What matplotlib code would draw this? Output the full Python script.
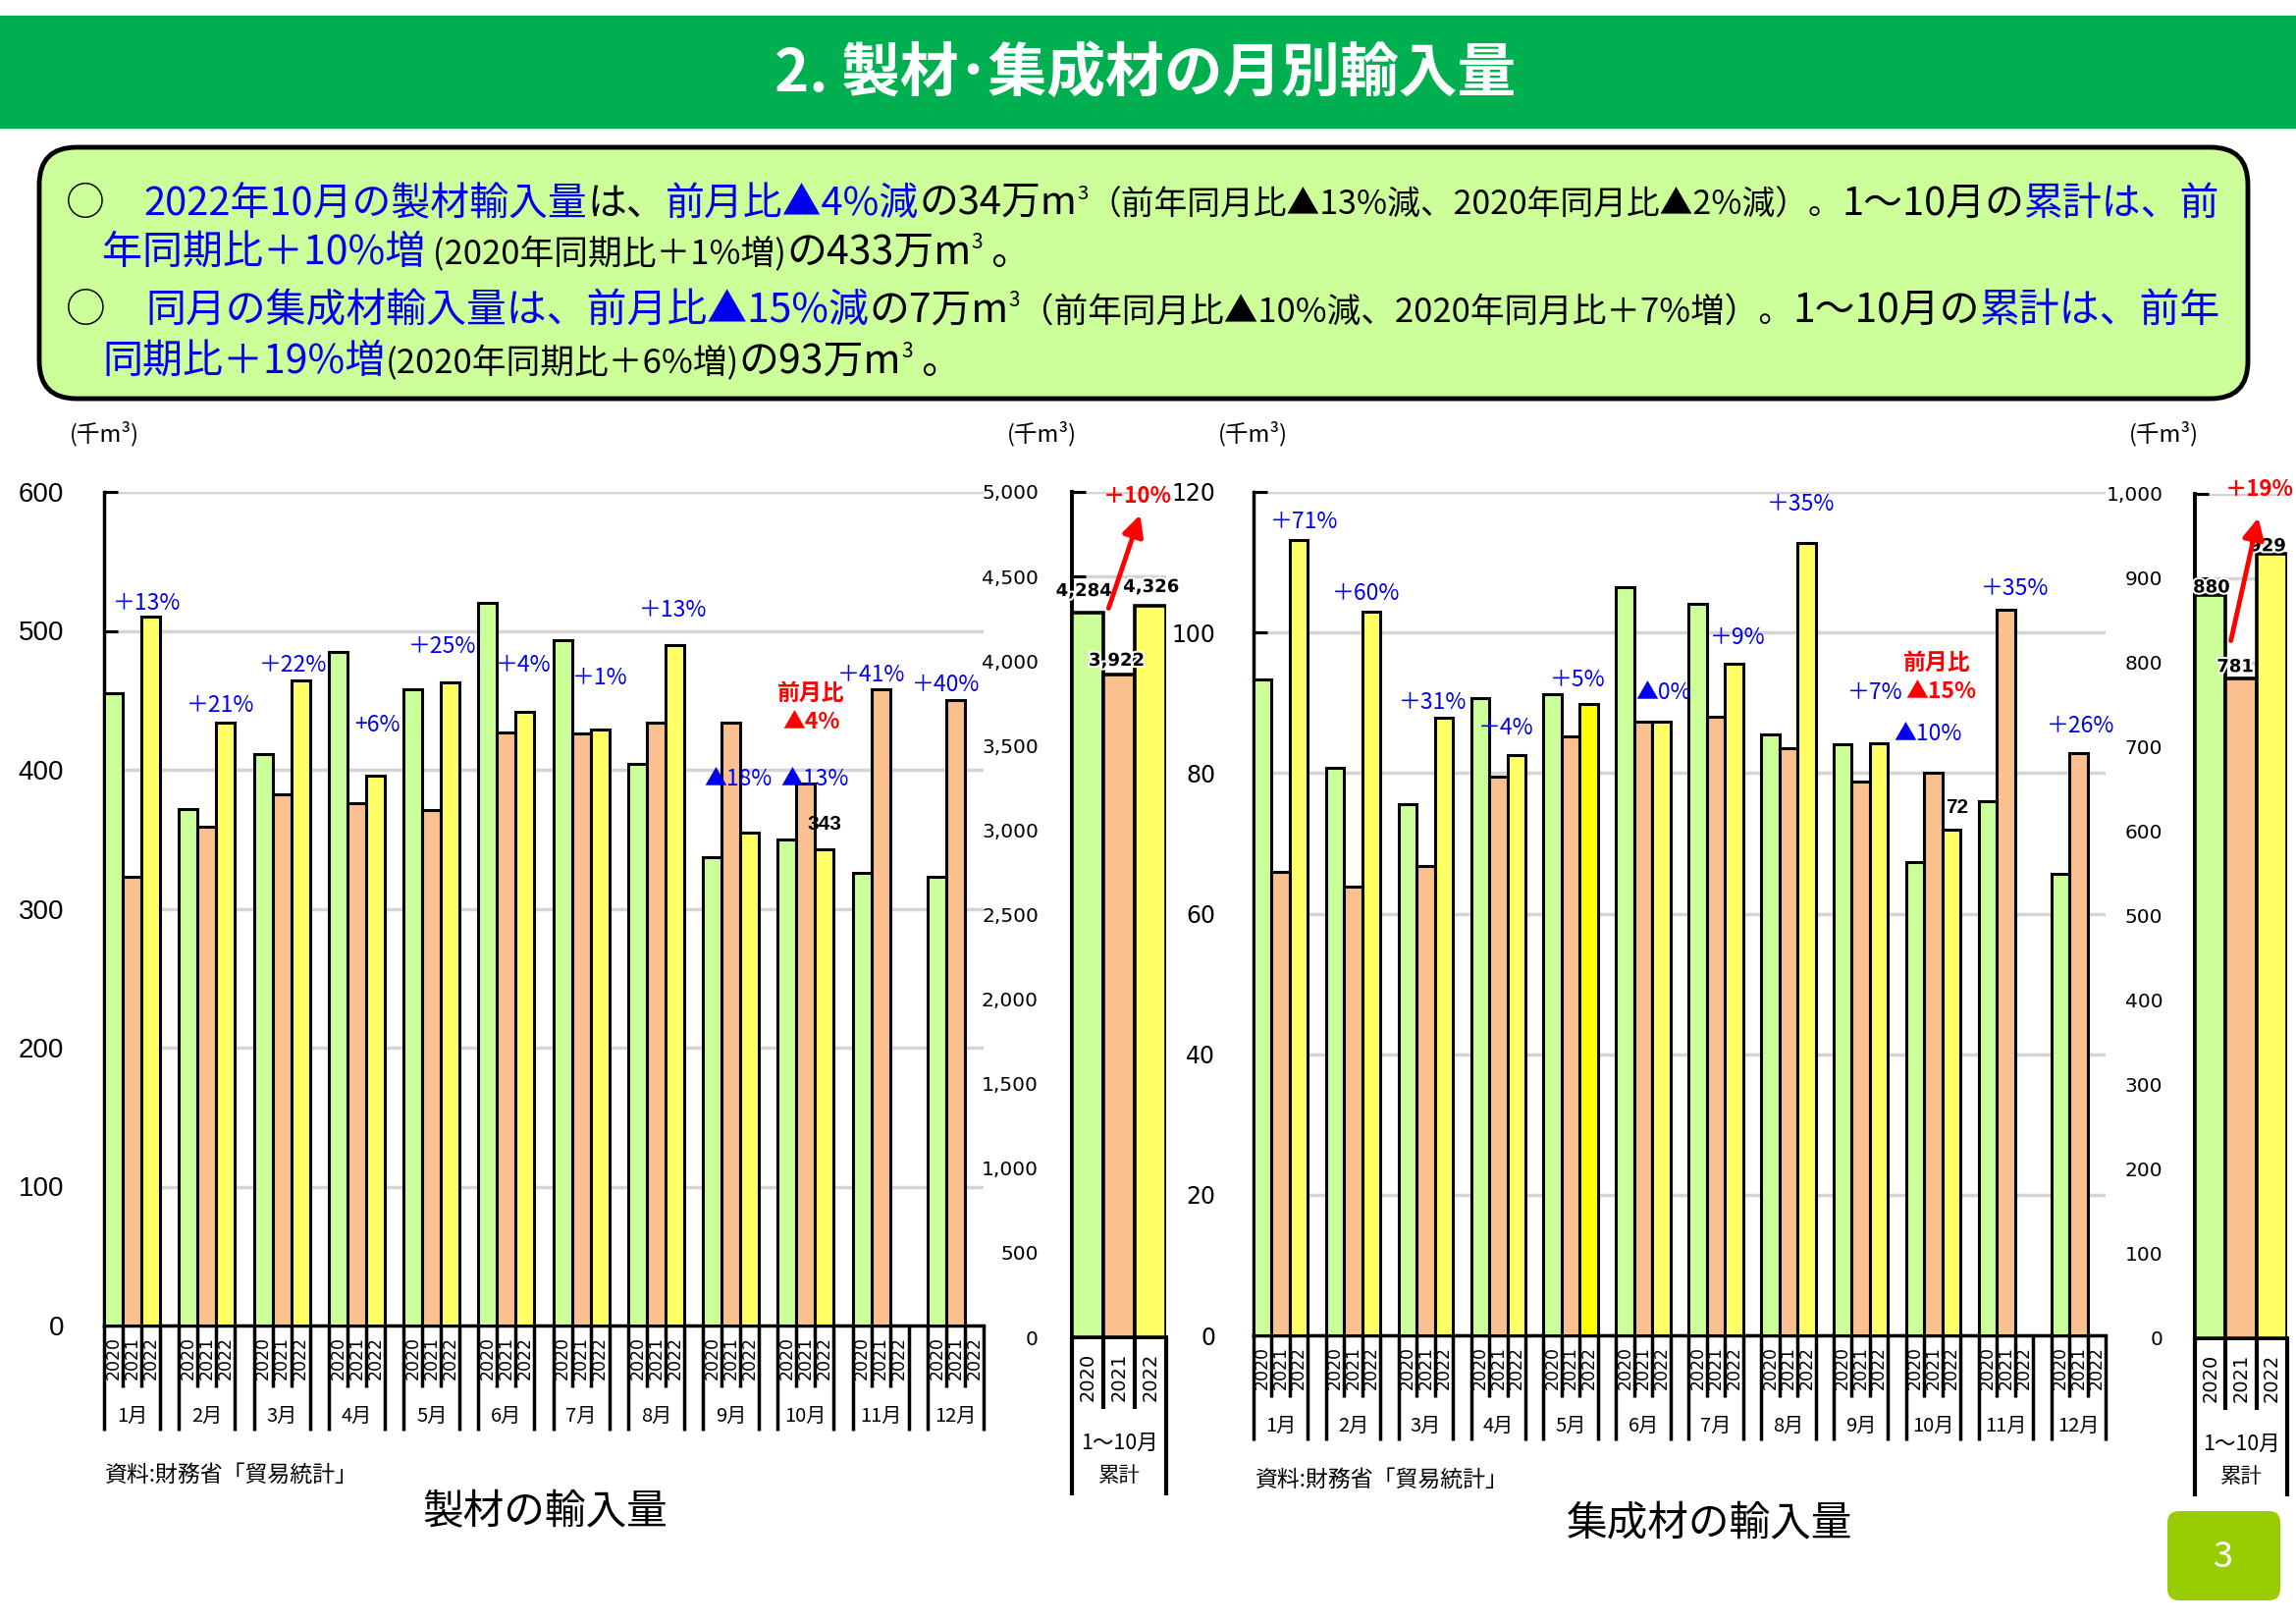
import matplotlib
matplotlib.use("Agg")
import numpy as np
import matplotlib.pyplot as plt
import matplotlib.patheffects as pe
from matplotlib.patches import FancyBboxPatch, Rectangle

plt.rcParams['font.family'] = ['Noto Sans CJK JP', 'DejaVu Sans']

W, H = 2339, 1654

# ---- data ----
months = ["1月", "2月", "3月", "4月", "5月", "6月", "7月", "8月", "9月", "10月", "11月", "12月"]
years = ["2020", "2021", "2022"]

# 製材 (千m3)
lumber_2020 = [455, 372, 411, 485, 458, 520, 493, 404, 337, 350, 326, 323]
lumber_2021 = [323, 359, 382, 376, 371, 427, 426, 434, 434, 390, 458, 450]
lumber_2022 = [510, 434, 464, 396, 463, 442, 429, 490, 355, 343]
lumber_cum = [4284, 3922, 4326]
lumber_yoy = ["＋13%", "＋21%", "＋22%", "+6%", "＋25%", "＋4%", "＋1%", "＋13%",
              "▲18%", "▲13%", "＋41%", "＋40%"]

# 集成材 (千m3)
glulam_2020 = [93.3, 80.8, 75.6, 90.7, 91.2, 106.5, 104.1, 85.5, 84.1, 67.4, 76.0, 65.6]
glulam_2021 = [66.0, 63.9, 66.8, 79.5, 85.2, 87.3, 88.0, 83.5, 78.8, 80.0, 103.2, 82.9]
glulam_2022 = [113.1, 102.9, 87.9, 82.6, 89.8, 87.3, 95.6, 112.8, 84.3, 72.0]
glulam_cum = [880, 781, 929]
glulam_yoy = ["＋71%", "＋60%", "＋31%", "＋4%", "＋5%", "▲0%", "＋9%", "＋35%",
              "＋7%", "▲10%", "＋35%", "＋26%"]

# label positions (bar-slot units, value)
lumber_yoy_pos = [(2.3, 520), (6.2, 446), (10.1, 475), (14.6, 432), (18.1, 489), (22.4, 475),
                  (26.5, 466), (30.4, 515), (33.9, 393), (38.0, 393), (41.0, 468), (45.0, 461)]
glulam_yoy_pos = [(2.8, 115.8), (6.2, 105.5), (9.9, 90.1), (13.9, 86.4), (17.9, 93.3), (22.6, 91.4),
                  (26.7, 99.3), (30.2, 118.3), (34.3, 91.5), (37.2, 85.5), (42.0, 106.3), (45.6, 86.7)]

BAR_COLORS = ['#CCFF99', '#FAC090', '#FFFF66']
BLUE = '#0000EE'
RED = '#FF0000'
GRID = '#D4D4D4'

fig = plt.figure(figsize=(W / 100, H / 100), dpi=100)
bg = fig.add_axes([0, 0, 1, 1])
bg.set_xlim(0, W)
bg.set_ylim(H, 0)
bg.axis('off')
renderer = fig.canvas.get_renderer()


def px_axes(x0, y0, x1, y1):
    return fig.add_axes([x0 / W, 1 - y1 / H, (x1 - x0) / W, (y1 - y0) / H])


# ---- header & summary box ----
bg.add_patch(Rectangle((0, 16), W, 114, color='#00B050', zorder=1))
bg.text(1167, 76, "2. 製材･集成材の月別輸入量", color='white', fontsize=43,
        fontweight='bold', ha='center', va='center', zorder=2)

bg.add_patch(FancyBboxPatch((40, 150), 2250, 256, boxstyle="round,pad=0,rounding_size=38",
                            fc='#CCFF99', ec='black', lw=3.5, zorder=1))

L, S, SUP = 29.5, 25, 15


def text_line(segs, x0, base, right):
    def place(k):
        arts = []
        x = x0
        for s, c, size, dy in segs:
            t = bg.text(x, base - dy * k, s, color=c, fontsize=size * k, va='baseline',
                        ha='left', zorder=3)
            x = t.get_window_extent(renderer).x1
            arts.append(t)
        return arts, x
    arts, end = place(1.0)
    if end > right:
        k = (right - x0) / (end - x0)
        for a in arts:
            a.remove()
        place(k)


line1 = [("○　", 'k', L, 0), ("2022年10月の製材輸入量", BLUE, L, 0), ("は、", 'k', L, 0),
         ("前月比▲4%減", BLUE, L, 0), ("の34万m", 'k', L, 0), ("3", 'k', SUP, 16),
         ("（前年同月比▲13%減、2020年同月比▲2%減）。", 'k', S, 0), ("1～10月の", 'k', L, 0),
         ("累計は、前", BLUE, L, 0)]
line2 = [("年同期比＋10%増", BLUE, L, 0), (" (2020年同期比＋1%増)", 'k', S, 0),
         ("の433万m", 'k', L, 0), ("3", 'k', SUP, 16), (" 。", 'k', L, 0)]
line3 = [("○　", 'k', L, 0), ("同月の集成材輸入量は、前月比▲15%減", BLUE, L, 0),
         ("の7万m", 'k', L, 0), ("3", 'k', SUP, 16),
         ("（前年同月比▲10%減、2020年同月比＋7%増）。", 'k', S, 0), ("1～10月の", 'k', L, 0),
         ("累計は、前年", BLUE, L, 0)]
line4 = [("同期比＋19%増", BLUE, L, 0), ("(2020年同期比＋6%増)", 'k', S, 0),
         ("の93万m", 'k', L, 0), ("3", 'k', SUP, 16), (" 。", 'k', L, 0)]

text_line(line1, 67, 219, 2262)
text_line(line2, 104, 269, 2262)
text_line(line3, 67, 328, 2262)
text_line(line4, 104, 380, 2262)


# ---- chart helpers ----
def bottom_lines(ax, x, depth, lw=2.5):
    ax_h = ax.get_position().height * H
    ax.plot([x, x], [0, -depth / ax_h], transform=ax.get_xaxis_transform(), color='black',
            lw=lw, clip_on=False, solid_capstyle='butt', zorder=5)


def monthly_panel(ax, series, ymax, ystep, tick_family, tick_size, tick_pad, highlight=None):
    ax.set_facecolor('none')
    for j, vals in enumerate(series):
        xs = [4 * i + j for i in range(len(vals))]
        bars = ax.bar(xs, vals, width=1, align='edge', color=BAR_COLORS[j], edgecolor='black',
                      linewidth=2.2, zorder=3)
        if highlight is not None and highlight[0] == j:
            bars.patches[highlight[1]].set_facecolor('#FFFF00')
    ax.set_xlim(0, 47)
    ax.set_ylim(0, ymax)
    ax.set_yticks(np.arange(0, ymax + 1, ystep))
    ax.set_xticks([])
    ax.yaxis.grid(True, color=GRID, lw=2.5)
    ax.set_axisbelow(True)
    for s in ['top', 'right']:
        ax.spines[s].set_visible(False)
    for s in ['left', 'bottom']:
        ax.spines[s].set_linewidth(2.5)
    ax.tick_params(axis='y', direction='in', length=10, width=2.2, pad=tick_pad, labelsize=tick_size)
    for t in ax.get_yticklabels():
        t.set_fontfamily(tick_family)

    ax_h = ax.get_position().height * H
    tr = ax.get_xaxis_transform()
    for i, m in enumerate(months):
        for j, y in enumerate(years):
            ax.text(4 * i + j + 0.5, -11 / ax_h, y, rotation=90, ha='center', va='top',
                    fontsize=12.5, family='DejaVu Sans', transform=tr)
        bottom_lines(ax, 4 * i, 107)
        bottom_lines(ax, 4 * i + 3, 107)
        bottom_lines(ax, 4 * i + 1, 63)
        bottom_lines(ax, 4 * i + 2, 63)
        ax.text(4 * i + 1.5, -92 / ax_h, m, ha='center', va='center', fontsize=14.5, transform=tr)


def cum_panel(ax, vals, ymax, ystep, tick_pad):
    ax.set_facecolor('none')
    ax.bar([0, 1, 2], vals, width=1, align='edge', color=BAR_COLORS, edgecolor='black',
           linewidth=2.6, zorder=3)
    ax.set_xlim(0, 3)
    ax.set_ylim(0, ymax)
    ticks = np.arange(0, ymax + 1, ystep)
    ax.set_yticks(ticks)
    ax.set_yticklabels([f"{v:,}" for v in ticks])
    ax.set_xticks([])
    ax.yaxis.grid(True, color=GRID, lw=2.5)
    ax.set_axisbelow(True)
    for s in ['top', 'right']:
        ax.spines[s].set_visible(False)
    for s in ['left', 'bottom']:
        ax.spines[s].set_linewidth(2.8)
    ax.tick_params(axis='y', direction='in', length=10, width=2.2, pad=tick_pad, labelsize=14.5)
    for t in ax.get_yticklabels():
        t.set_fontfamily('DejaVu Sans')

    ax_h = ax.get_position().height * H
    tr = ax.get_xaxis_transform()
    for j, y in enumerate(years):
        ax.text(j + 0.5, -16 / ax_h, y, rotation=90, ha='center', va='top', fontsize=14,
                family='DejaVu Sans', transform=tr)
    bottom_lines(ax, 0, 161, 3)
    bottom_lines(ax, 3, 161, 3)
    bottom_lines(ax, 1, 73, 3)
    bottom_lines(ax, 2, 73, 3)
    ax.text(1.5, -108 / ax_h, "1～10月", ha='center', va='center', fontsize=15.5, transform=tr)
    ax.text(1.5, -141 / ax_h, "累計", ha='center', va='center', fontsize=15.5, transform=tr)


def value_label(ax, x, y, s, size=13):
    ax.text(x, y, s, ha='center', va='center', fontsize=size, fontweight='bold',
            family='DejaVu Sans', zorder=6,
            path_effects=[pe.withStroke(linewidth=3, foreground='white')])


# ---- 製材 ----
ax1 = px_axes(106, 501, 1002, 1350)
monthly_panel(ax1, [lumber_2020, lumber_2021, lumber_2022], 600, 100,
              'Liberation Sans', 20, 29.5)
for s, (x, y) in zip(lumber_yoy, lumber_yoy_pos):
    ax1.text(x, y, s, color=BLUE, fontsize=16.5, ha='center', va='center', zorder=6)
ax1.text(37.8, 455, "前月比", color=RED, fontsize=16.5, fontweight='bold', ha='center', va='center', zorder=6)
ax1.text(37.8, 434, "▲4%", color=RED, fontsize=16.5, fontweight='bold', ha='center', va='center', zorder=6)
ax1.text(38.5, 361, f"{lumber_2022[-1]}", fontsize=15, fontweight='bold', family='Liberation Sans',
         ha='center', va='center', zorder=6)

ax1c = px_axes(1092, 501, 1188, 1362)
cum_panel(ax1c, lumber_cum, 5000, 500, 24.5)
value_label(ax1c, 0.38, 4413, f"{lumber_cum[0]:,}")
value_label(ax1c, 1.42, 4001, f"{lumber_cum[1]:,}")
value_label(ax1c, 2.52, 4437, f"{lumber_cum[2]:,}")
ax1c.annotate('', xy=(2.2, 4880), xytext=(1.14, 4297),
              arrowprops=dict(arrowstyle='-|>', color=RED, lw=3.5, mutation_scale=32), zorder=6)
ax1c.text(2.08, 4971, "＋10%", color=RED, fontsize=16, fontweight='bold', ha='center',
          va='center', zorder=6)

# ---- 集成材 ----
ax2 = px_axes(1277, 501, 2145, 1360)
monthly_panel(ax2, [glulam_2020, glulam_2021, glulam_2022], 120, 20,
              'DejaVu Sans', 17, 28, highlight=(2, 4))
for s, (x, y) in zip(glulam_yoy, glulam_yoy_pos):
    ax2.text(x, y, s, color=BLUE, fontsize=16.5, ha='center', va='center', zorder=6)
ax2.text(37.7, 95.6, "前月比", color=RED, fontsize=16.5, fontweight='bold', ha='center', va='center', zorder=6)
ax2.text(37.9, 91.6, "▲15%", color=RED, fontsize=16.5, fontweight='bold', ha='center', va='center', zorder=6)
ax2.text(38.8, 75.1, f"{glulam_2022[-1]:.0f}", fontsize=15, fontweight='bold', family='Liberation Sans',
         ha='center', va='center', zorder=6)

ax2c = px_axes(2236, 503, 2330, 1363)
cum_panel(ax2c, glulam_cum, 1000, 100, 23.5)
value_label(ax2c, 0.54, 889, f"{glulam_cum[0]:,}")
value_label(ax2c, 1.31, 795, f"{glulam_cum[1]:,}")
value_label(ax2c, 2.36, 938, f"{glulam_cum[2]:,}")
ax2c.annotate('', xy=(2.08, 975), xytext=(1.15, 823),
              arrowprops=dict(arrowstyle='-|>', color=RED, lw=3.5, mutation_scale=32), zorder=6)
ax2c.text(2.11, 1005, "＋19%", color=RED, fontsize=16, fontweight='bold', ha='center',
          va='center', zorder=6)

# ---- units, sources, titles ----
for x in [106, 1061, 1276, 2204]:
    bg.text(x, 442, "(千m³)", fontsize=17, ha='center', va='center')
bg.text(107, 1502, "資料:財務省「貿易統計」", fontsize=16.5, ha='left', va='center')
bg.text(1279, 1507, "資料:財務省「貿易統計」", fontsize=16.5, ha='left', va='center')
bg.text(555, 1540, "製材の輸入量", fontsize=30, ha='center', va='center')
bg.text(1742, 1552, "集成材の輸入量", fontsize=30, ha='center', va='center')

bg.add_patch(FancyBboxPatch((2208, 1539), 115, 91, boxstyle="round,pad=0,rounding_size=12",
                            fc='#99CC00', ec='none', zorder=1))
bg.text(2265, 1586, "3", color='white', fontsize=26, ha='center', va='center', zorder=2)

fig.savefig("out.png", dpi=100)
